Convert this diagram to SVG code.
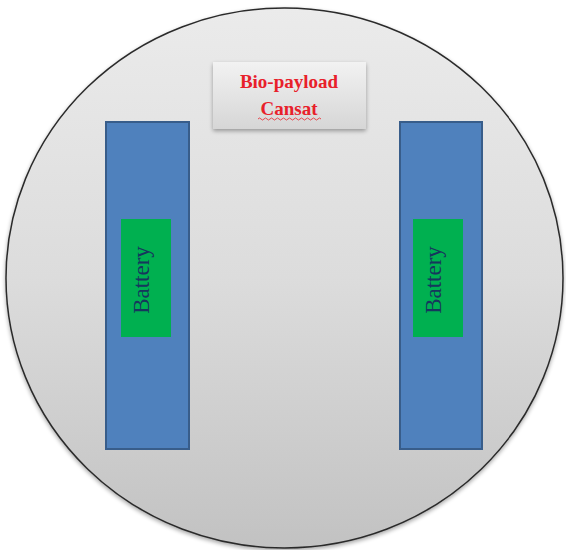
<svg xmlns="http://www.w3.org/2000/svg" width="566" height="550" viewBox="0 0 566 550">
<defs>
<linearGradient id="bg" x1="0" y1="0" x2="0" y2="1">
<stop offset="0" stop-color="#ebebeb"/>
<stop offset="0.5" stop-color="#dcdcdc"/>
<stop offset="1" stop-color="#c2c2c2"/>
</linearGradient>
<linearGradient id="lbl" x1="0" y1="0" x2="0" y2="1">
<stop offset="0" stop-color="#f2f2f2"/>
<stop offset="1" stop-color="#d6d6d6"/>
</linearGradient>
<filter id="sh" x="-10%" y="-10%" width="130%" height="140%">
<feGaussianBlur in="SourceAlpha" stdDeviation="2"/>
<feOffset dx="0" dy="2" result="b"/>
<feComponentTransfer><feFuncA type="linear" slope="0.35"/></feComponentTransfer>
<feMerge><feMergeNode/><feMergeNode in="SourceGraphic"/></feMerge>
</filter>
</defs>
<style>
.case{fill:#4f81bd;stroke:#385d8a;stroke-width:2}
.cell{fill:#00b050}
.bt{font-family:"Liberation Serif",serif;font-size:23px;fill:#17365d;text-anchor:middle}
.title{font-family:"Liberation Serif",serif;font-weight:bold;font-size:19px;fill:#e8202a;text-anchor:middle}
</style>
<rect width="566" height="550" fill="#ffffff"/>
<g id="body">
<ellipse cx="284.5" cy="278" rx="278.5" ry="270" fill="url(#bg)" stroke="#2b2b2b" stroke-width="1.5" filter="url(#sh)"/>
</g>
<g id="label">
<rect x="213" y="62" width="153" height="67" fill="url(#lbl)" filter="url(#sh)"/>
<text class="title" x="289" y="88">Bio-payload</text>
<text class="title" x="289" y="115">Cansat</text>
<path d="M258 119 q1.5 -2 3 0 t3 0 t3 0 t3 0 t3 0 t3 0 t3 0 t3 0 t3 0 t3 0 t3 0 t3 0 t3 0 t3 0 t3 0 t3 0 t3 0 t3 0 t3 0 t3 0 t3 0" fill="none" stroke="#e8202a" stroke-width="0.8"/>
</g>
<g id="left-battery">
<rect class="case" x="106" y="122" width="83" height="327"/>
<rect class="cell" x="121" y="219" width="50" height="118"/>
<text class="bt" transform="translate(149,280) rotate(-90)">Battery</text>
</g>
<g id="right-battery">
<rect class="case" x="400" y="122" width="82" height="327"/>
<rect class="cell" x="413" y="219" width="50" height="118"/>
<text class="bt" transform="translate(441,280) rotate(-90)">Battery</text>
</g>
<g id="connectors"/>
</svg>
